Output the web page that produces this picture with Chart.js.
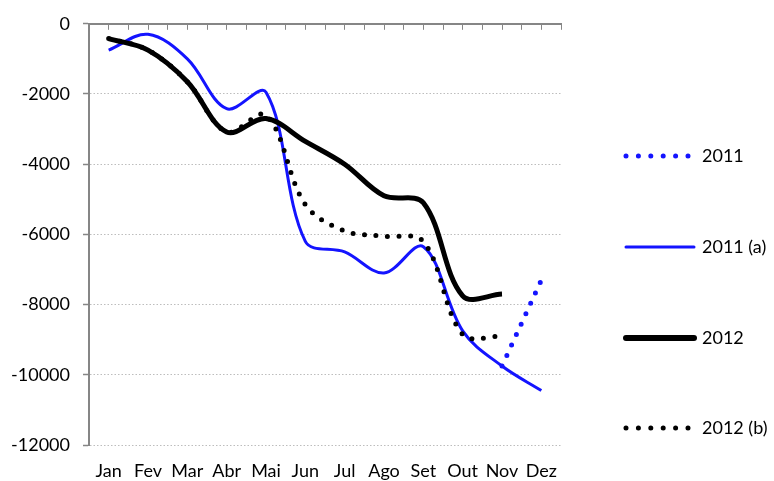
<!DOCTYPE html>
<html>
<head>
<meta charset="utf-8">
<script src="https://cdn.jsdelivr.net/npm/chart.js@4/dist/chart.umd.min.js"></script>
<style>
  body { margin: 0; background: #fff; }
  #wrap { width: 774px; height: 481px; position: relative; }
</style>
</head>
<body>
<div id="wrap"><canvas id="saldo"></canvas></div>
<script>
// Months (category labels)
var months = ['Jan', 'Fev', 'Mar', 'Abr', 'Mai', 'Jun', 'Jul', 'Ago', 'Set', 'Out', 'Nov', 'Dez'];

// Series values
var serie2011  = [null, null, null, null, null, null, null, null, null, null, -9750, -7300];
var serie2011a = [-750, -300, -1000, -2420, -1950, -6200, -6500, -7100, -6350, -8750, -9750, -10450];
var serie2012  = [-420, -750, -1650, -3080, -2700, -3350, -4000, -4900, -5100, -7750, -7700, null];
var serie2012b = [-420, -750, -1650, -3080, -2600, -5150, -5900, -6050, -6200, -8850, -8900, null];

// y axis ticks
var yMin = -12000, yMax = 0, yStep = 2000;

var fontName = 'Lato';
var axisGray = '#868686';

// Legend rows on the right (vertical centres)
var legendRows = [156, 247, 338, 428];

var sideLegend = {
  id: 'sideLegend',
  afterDraw: function(chart) {
    var ctx = chart.ctx;
    chart.data.datasets.forEach(function(ds, i) {
      var y = legendRows[i];
      ctx.save();
      ctx.strokeStyle = ds.borderColor;
      ctx.lineWidth = ds.legendWidth;
      ctx.lineCap = 'round';
      ctx.setLineDash(ds.borderDash ? [0, 12.4] : []);
      ctx.beginPath();
      ctx.moveTo(626, y);
      ctx.lineTo(694, y);
      ctx.stroke();
      ctx.setLineDash([]);
      ctx.fillStyle = '#000';
      ctx.font = '18px ' + fontName;
      ctx.textBaseline = 'middle';
      ctx.textAlign = 'left';
      ctx.fillText(ds.label, 702, y);
      ctx.restore();
    });
  }
};

var chart = new Chart(document.getElementById('saldo'), {
  type: 'line',
  data: {
    labels: months,
    datasets: [
      {
        label: '2011', data: serie2011, order: 1,
        borderColor: '#1414ff', borderWidth: 5, legendWidth: 5,
        borderDash: [0, 11.5], borderCapStyle: 'round'
      },
      {
        label: '2011 (a)', data: serie2011a, order: 3,
        borderColor: '#1414ff', borderWidth: 3, legendWidth: 3
      },
      {
        label: '2012', data: serie2012, order: 2,
        borderColor: '#000000', borderWidth: 5, legendWidth: 6
      },
      {
        label: '2012 (b)', data: serie2012b, order: 0,
        borderColor: '#000000', borderWidth: 5, legendWidth: 5,
        borderDash: [0, 11.5], borderCapStyle: 'round'
      }
    ]
  },
  options: {
    responsive: true,
    maintainAspectRatio: false,
    animation: false,
    layout: { padding: { left: 0, right: 213, top: 0, bottom: 0 } },
    elements: {
      point: { radius: 0, hoverRadius: 0 },
      line: { tension: 0.35, fill: false, borderJoinStyle: 'round' }
    },
    plugins: {
      legend: { display: false },
      tooltip: { enabled: false }
    },
    scales: {
      x: {
        type: 'category',
        position: 'bottom',
        offset: true,
        grid: { display: false, drawTicks: false },
        border: { display: false },
        ticks: { color: '#000', font: { family: fontName, size: 18 }, padding: 15, maxRotation: 0, autoSkip: false },
        afterFit: function(scale) { scale.height = 36; }
      },
      xTop: {
        type: 'linear',
        position: 'top',
        min: 0, max: 12,
        ticks: { display: false, stepSize: 0.5, autoSkip: false },
        grid: { drawOnChartArea: false, drawTicks: true, tickLength: -6, color: axisGray, lineWidth: 1 },
        border: { color: axisGray, width: 2 },
        afterFit: function(scale) { scale.height = 22; }
      },
      y: {
        min: yMin, max: yMax,
        ticks: {
          stepSize: yStep, color: '#000', font: { family: fontName, size: 18 }, padding: 13,
          callback: function(v) { return String(v); }
        },
        grid: {
          color: function(c) { return c.tick && c.tick.value === 0 ? 'rgba(0,0,0,0)' : '#bdbdbd'; },
          lineWidth: 1,
          tickColor: axisGray,
          tickBorderDash: [],
          tickLength: 6,
          tickWidth: 1.5
        },
        border: { color: axisGray, width: 2, dash: [1.5, 2] },
        afterFit: function(scale) { scale.width = 89; }
      }
    }
  },
  plugins: [sideLegend]
});
</script>
</body>
</html>
